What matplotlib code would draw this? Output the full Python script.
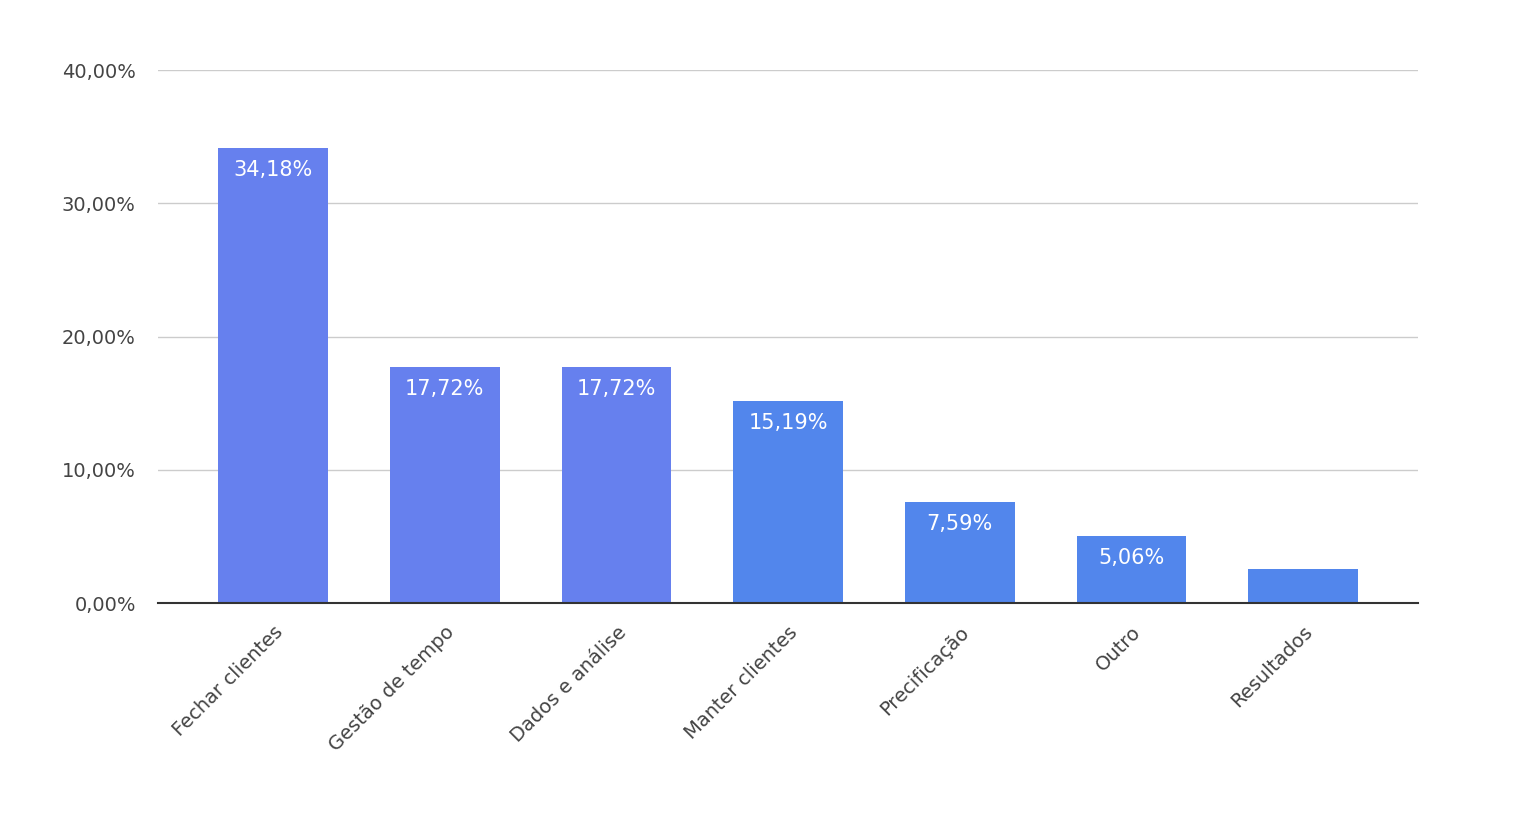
import matplotlib.pyplot as plt

categorias = ["Fechar clientes", "Gestão de tempo", "Dados e análise", "Manter clientes",
              "Precificação", "Outro", "Resultados"]
valores = [34.18, 17.72, 17.72, 15.19, 7.59, 5.06, 2.53]
rotulos = ["34,18%", "17,72%", "17,72%", "15,19%", "7,59%", "5,06%", ""]
cores = ["#6680ee", "#6680ee", "#6680ee", "#5286ec", "#5286ec", "#5286ec", "#5286ec"]

fig = plt.figure(figsize=(15.2, 8.16), dpi=100)
ax = fig.add_axes([0.104, 0.261, 0.829, 0.653])

x = range(len(categorias))
bars = ax.bar(x, valores, width=0.64, color=cores, zorder=3)
for b, r in zip(bars, rotulos):
    ax.text(b.get_x() + b.get_width() / 2, b.get_height() - 0.9, r, ha="center", va="top",
            color="white", fontsize=15, zorder=4)

ax.set_xlim(-0.67, 6.67)
ax.set_ylim(0, 40)
ax.set_yticks([0, 10, 20, 30, 40])
ax.set_yticklabels(["0,00%", "10,00%", "20,00%", "30,00%", "40,00%"])
ax.set_xticks(list(x))
ax.set_xticklabels(categorias, rotation=45, ha="right", rotation_mode="anchor")
ax.tick_params(axis="both", length=0, labelsize=14, labelcolor="#444444", pad=14)
ax.tick_params(axis="y", pad=16)
ax.grid(axis="y", color="#cccccc", linewidth=1, zorder=0)
for s in ["top", "right", "left"]:
    ax.spines[s].set_visible(False)
ax.spines["bottom"].set_color("#333333")
ax.spines["bottom"].set_linewidth(1.5)
ax.spines["bottom"].set_zorder(5)

plt.savefig("out.png", dpi=100)
